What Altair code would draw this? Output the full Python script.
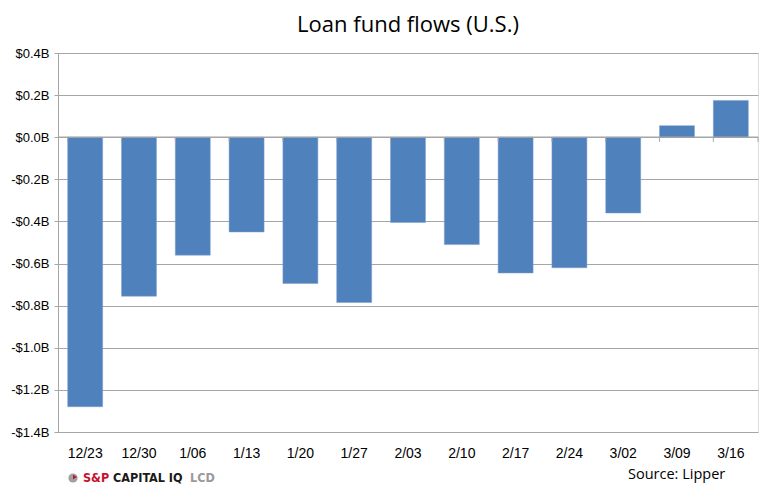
import altair as alt
import pandas as pd

dates = ["12/23", "12/30", "1/06", "1/13", "1/20", "1/27", "2/03",
         "2/10", "2/17", "2/24", "3/02", "3/09", "3/16"]
flows = [-1.28, -0.755, -0.56, -0.45, -0.695, -0.785, -0.405,
         -0.51, -0.645, -0.62, -0.36, 0.055, 0.175]
y_ticks = [0.4, 0.2, 0.0, -0.2, -0.4, -0.6, -0.8, -1.0, -1.2, -1.4]

df = pd.DataFrame({"date": dates, "flow": flows})

W, H = 700, 379
BAR = "#4F81BD"
GRID = "#A6A6A6"

xscale = alt.Scale(domain=dates, paddingInner=0.35, paddingOuter=0.18)
yscale = alt.Scale(domain=[-1.4, 0.4], nice=False, zero=False)

label_expr = "(datum.value < -0.001 ? '-' : '') + '$' + format(abs(datum.value), '.1f') + 'B'"

bars = alt.Chart(df).mark_bar(color=BAR, stroke="#7F9FCC", strokeWidth=0.5).encode(
    x=alt.X("date:N", scale=xscale, sort=dates, title=None,
            axis=alt.Axis(labelAngle=0, labelFont="Liberation Sans", labelFontSize=14,
                          labelColor="#000000", domain=False, ticks=False,
                          labelPadding=14, grid=False)),
    y=alt.Y("flow:Q", scale=yscale, title=None,
            axis=alt.Axis(values=y_ticks, labelExpr=label_expr,
                          labelFont="Liberation Sans", labelFontSize=13,
                          labelColor="#000000", grid=True, gridColor=GRID,
                          gridWidth=1, domain=True, domainColor=GRID,
                          tickColor=GRID, tickSize=4, labelPadding=5)),
)

zero_line = alt.Chart(pd.DataFrame({"v": [0.0]})).mark_rule(color=GRID, strokeWidth=1.2).encode(
    x=alt.value(0), x2=alt.value(W), y=alt.Y("v:Q", scale=yscale)
)

tick_df = pd.DataFrame({"date": dates, "t0": [0.0] * len(dates), "t1": [-0.022] * len(dates)})
tick_marks = alt.Chart(tick_df).mark_rule(color=GRID, strokeWidth=1).encode(
    x=alt.X("date:N", scale=xscale, sort=dates, bandPosition=0),
    y=alt.Y("t0:Q", scale=yscale),
    y2="t1:Q",
)
end_tick = alt.Chart(pd.DataFrame({"t0": [0.0], "t1": [-0.022]})).mark_rule(color=GRID).encode(
    x=alt.value(W), y=alt.Y("t0:Q", scale=yscale), y2="t1:Q"
)

source_text = alt.Chart(pd.DataFrame({"t": ["Source: Lipper"]})).mark_text(
    font="Open Sans", fontSize=14.5, color="#000000", align="left", baseline="middle"
).encode(text="t:N", x=alt.value(570), y=alt.value(422))

logo_sp = alt.Chart(pd.DataFrame({"t": ["S&P"]})).mark_text(
    font="DejaVu Sans Condensed", fontWeight="bold", fontSize=12.5, color="#C8102E",
    align="left", baseline="middle"
).encode(text="t:N", x=alt.value(25), y=alt.value(425))
logo_cap = alt.Chart(pd.DataFrame({"t": ["CAPITAL IQ"]})).mark_text(
    font="DejaVu Sans Condensed", fontWeight="bold", fontSize=12.5, color="#1A1A1A",
    align="left", baseline="middle"
).encode(text="t:N", x=alt.value(55), y=alt.value(425))
logo_lcd = alt.Chart(pd.DataFrame({"t": ["LCD"]})).mark_text(
    font="DejaVu Sans Condensed", fontWeight="bold", fontSize=12.5, color="#9A9A9A",
    align="left", baseline="middle"
).encode(text="t:N", x=alt.value(132), y=alt.value(425))
logo_dot = alt.Chart(pd.DataFrame({"t": ["o"]})).mark_point(
    shape="circle", filled=True, size=85, color="#A0A0A0", opacity=1
).encode(x=alt.value(15), y=alt.value(425))
logo_dot2 = alt.Chart(pd.DataFrame({"t": ["o"]})).mark_point(
    shape="triangle-right", filled=True, size=22, color="#C8102E", opacity=1
).encode(x=alt.value(17), y=alt.value(424))

chart = alt.layer(
    bars, zero_line, tick_marks, end_tick, source_text,
    logo_dot, logo_dot2, logo_sp, logo_cap, logo_lcd
).properties(
    width=W, height=H,
    title=alt.TitleParams("Loan fund flows (U.S.)", font="Open Sans", fontSize=22,
                          fontWeight="normal", color="#000000", anchor="middle",
                          offset=10),
    autosize=alt.AutoSizeParams(type="none"),
    padding={"left": 50, "top": 45, "right": 2, "bottom": 56},
).configure_view(stroke=None).configure(background="#FFFFFF")

chart.save("out.html", embed_options={"renderer": "svg", "actions": False})
